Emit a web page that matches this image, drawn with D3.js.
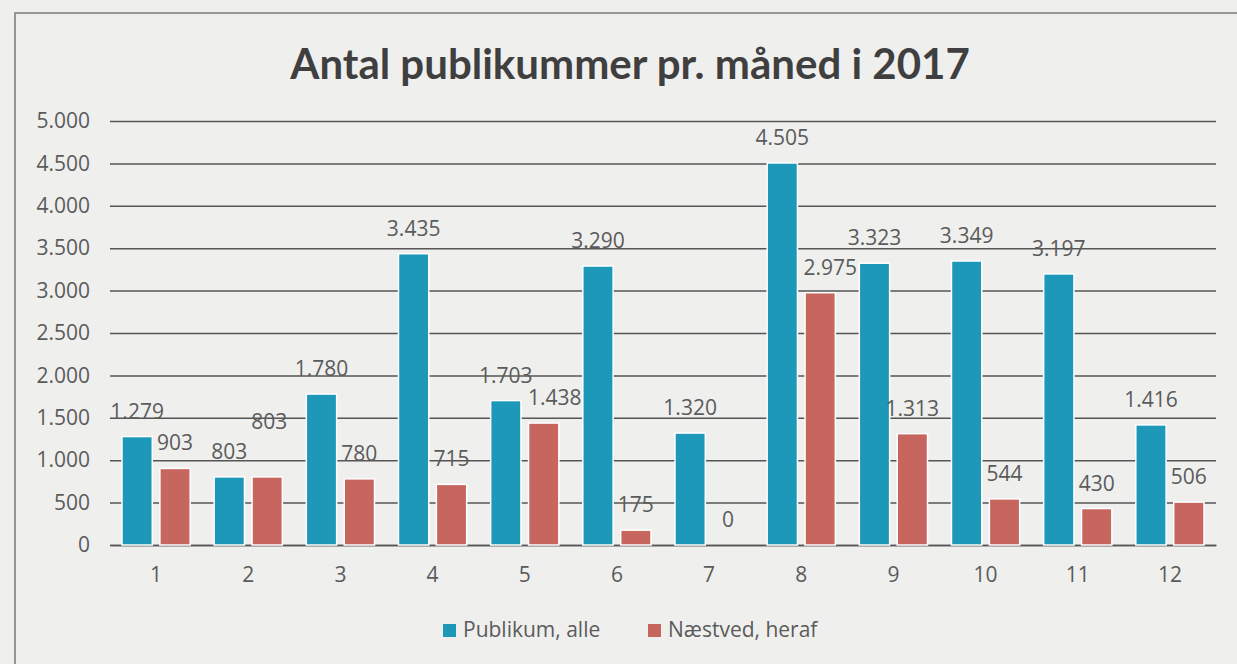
<!DOCTYPE html>
<html>
<head>
<meta charset="utf-8">
<script src="https://cdn.jsdelivr.net/npm/d3@7/dist/d3.min.js"></script>
<style>
  html, body { margin: 0; background: #efefee; overflow: hidden; }
  svg { display: block; font-family: "Open Sans", Lato, sans-serif; }
</style>
</head>
<body>
<div id="chart"></div>
<script>
// data
const months = ["1", "2", "3", "4", "5", "6", "7", "8", "9", "10", "11", "12"];
const seriesNames = ["Publikum, alle", "Næstved, heraf"];
const publikumAlle = [1279, 803, 1780, 3435, 1703, 3290, 1320, 4505, 3323, 3349, 3197, 1416];
const naestvedHeraf = [903, 803, 780, 715, 1438, 175, 0, 2975, 1313, 544, 430, 506];
const yTicks = [0, 500, 1000, 1500, 2000, 2500, 3000, 3500, 4000, 4500, 5000];
const colors = ["#1d98b9", "#c7665f"];

// a few labels were dragged in the original, nudge them
const labelNudge = { "1-2": [2, -30], "1-8": [10, 0], "1-5": [11, 0] };

const width = 1237, height = 664;
const margin = { top: 121, bottom: 119, left: 110, right: 21 };

const svg = d3.select("#chart").append("svg")
  .attr("width", width)
  .attr("height", height);

// outer frame of the scanned chart
svg.append("path")
  .attr("d", "M15,700 L15,13 L1250,13")
  .attr("fill", "none")
  .attr("stroke", "#7a7a7a")
  .attr("stroke-width", 1.5);

svg.append("text")
  .attr("x", 630)
  .attr("y", 79)
  .attr("text-anchor", "middle")
  .attr("font-family", "Lato, sans-serif")
  .attr("font-size", 42)
  .attr("font-weight", "bold")
  .attr("fill", "#3f3f3f")
  .text("Antal publikummer pr. måned i 2017");

const x0 = d3.scaleBand()
  .domain(months)
  .range([margin.left, width - margin.right])
  .paddingInner(0.26)
  .paddingOuter(0.13);

const x1 = d3.scaleBand()
  .domain([0, 1])
  .range([0, x0.bandwidth()])
  .paddingInner(0.2);

const y = d3.scaleLinear()
  .domain([0, 5000])
  .range([height - margin.bottom, margin.top]);

const fmt = v => d3.format(",")(v).replace(/,/g, ".");

// gridlines + y axis labels
const yAxis = svg.append("g")
  .attr("transform", `translate(${margin.left},0)`)
  .call(d3.axisLeft(y).tickValues(yTicks).tickSize(-(width - margin.left - margin.right)).tickFormat(fmt).tickPadding(20));
yAxis.select(".domain").remove();
yAxis.selectAll(".tick line").attr("stroke", "#555555").attr("stroke-width", 1.5);
yAxis.selectAll(".tick text")
  .attr("font-size", 21)
  .attr("fill", "#5b5b5b")
  .attr("font-family", "'Open Sans', sans-serif");

// x axis labels
const xAxis = svg.append("g")
  .attr("transform", `translate(0,${height - margin.bottom})`)
  .call(d3.axisBottom(x0).tickSize(0).tickPadding(22));
xAxis.select(".domain").attr("stroke", "#555555").attr("stroke-width", 1.5);
xAxis.selectAll(".tick text")
  .attr("font-size", 21)
  .attr("fill", "#5b5b5b")
  .attr("font-family", "'Open Sans', sans-serif");

const rows = months.map((m, i) => ({ month: m, values: [publikumAlle[i], naestvedHeraf[i]] }));

const groups = svg.append("g")
  .selectAll("g")
  .data(rows)
  .join("g")
  .attr("transform", d => `translate(${x0(d.month)},0)`);

groups.selectAll("rect")
  .data(d => d.values.map((v, s) => ({ v, s })))
  .join("rect")
  .attr("x", d => x1(d.s))
  .attr("width", x1.bandwidth())
  .attr("y", d => y(d.v))
  .attr("height", d => y(0) - y(d.v))
  .attr("fill", d => colors[d.s])
  .attr("stroke", "#ffffff")
  .attr("stroke-width", 1.5);

// value labels in their own layer so they sit over every bar
const labels = [];
rows.forEach(r => r.values.forEach((v, s) => labels.push({ v, s, month: r.month })));
const nudge = d => labelNudge[d.s + "-" + d.month] || [0, 0];

svg.append("g")
  .selectAll("text")
  .data(labels)
  .join("text")
  .attr("x", d => x0(d.month) + x1(d.s) + x1.bandwidth() / 2 + nudge(d)[0])
  .attr("y", d => y(d.v) - 18 + nudge(d)[1])
  .attr("text-anchor", "middle")
  .attr("font-size", 21)
  .attr("fill", "#5b5b5b")
  .text(d => fmt(d.v));

// legend
const legend = svg.append("g").attr("transform", "translate(443,630)");
const legendX = [0, 205];
seriesNames.forEach((name, i) => {
  const g = legend.append("g").attr("transform", `translate(${legendX[i]},0)`);
  g.append("rect")
    .attr("x", 0).attr("y", -6)
    .attr("width", 13).attr("height", 13)
    .attr("fill", colors[i]);
  g.append("text")
    .attr("x", 20).attr("y", 7)
    .attr("font-size", 21)
    .attr("fill", "#5b5b5b")
    .text(name);
});
</script>
</body>
</html>
